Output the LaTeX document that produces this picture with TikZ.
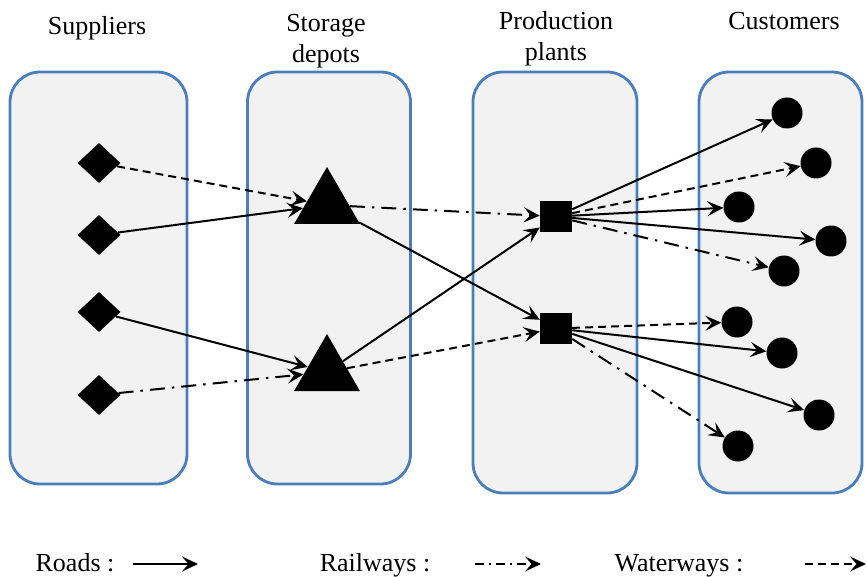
\documentclass[tikz,border=0pt]{standalone}
\usepackage{fontspec}
\setmainfont{Liberation Serif}
\usetikzlibrary{arrows.meta,shapes.geometric}

\definecolor{panelblue}{RGB}{74,126,187}
\definecolor{panelfill}{RGB}{242,242,242}

\tikzset{
  panel/.style={draw=panelblue, line width=2.8pt, fill=panelfill, rounded corners=30pt, inner sep=0pt},
  supplier/.style={diamond, fill=black, inner sep=0pt, minimum width=43pt, minimum height=40pt},
  depot/.style={regular polygon, regular polygon sides=3, fill=black, inner sep=0pt, minimum size=76pt},
  plant/.style={rectangle, fill=black, inner sep=0pt, minimum width=32pt, minimum height=31pt},
  customer/.style={circle, fill=black, inner sep=0pt, minimum size=31pt},
  title/.style={font=\fontsize{26}{31}\selectfont, align=center, inner sep=0pt},
  link/.style={line width=2pt, -{Stealth[length=16pt, width=15pt, inset=6.5pt]}},
  road/.style={link},
  rail/.style={link, dash pattern=on 15pt off 7pt on 2.5pt off 7pt},
  water/.style={link, dash pattern=on 8pt off 5pt},
  legendline/.style={line width=2.6pt},
}

\begin{document}
\begin{tikzpicture}[x=1pt, y=-1pt]
\useasboundingbox (0,0) rectangle (867,577);

% column panels
\node[panel, minimum width=177pt, minimum height=412pt] (supbox) at (98.5,278) {};
\node[panel, minimum width=163pt, minimum height=412pt] (depbox) at (329,278) {};
\node[panel, minimum width=164pt, minimum height=421pt] (plabox) at (555,282.5) {};
\node[panel, minimum width=163pt, minimum height=421pt] (cusbox) at (780.5,282.5) {};

% column titles
\node[title, anchor=base] (tsup) at (97,35) {Suppliers};
\node[title] (tdep) at (326,41) {Storage\\depots};
\node[title] (tpla) at (556,39) {Production\\plants};
\node[title, anchor=base] (tcus) at (784,30) {Customers};

% suppliers
\node[supplier] (d1) at (99,163) {};
\node[supplier] (d2) at (99,235) {};
\node[supplier] (d3) at (99,312) {};
\node[supplier] (d4) at (99,395) {};

% storage depots
\node[depot] (t1) at (327,205) {};
\node[depot] (t2) at (327,372) {};

% production plants
\node[plant] (s1) at (556,216.5) {};
\node[plant] (s2) at (556,328.5) {};

% customers
\node[customer] (c1) at (787,113) {};
\node[customer] (c2) at (816,163) {};
\node[customer] (c3) at (739,207) {};
\node[customer] (c4) at (831,241) {};
\node[customer] (c5) at (784,271) {};
\node[customer] (c6) at (737,322) {};
\node[customer] (c7) at (782,353) {};
\node[customer] (c8) at (819,415) {};
\node[customer] (c9) at (738,446) {};

% suppliers to depots
\draw[water] (d1) -- (t1);
\draw[road]  (d2) -- (t1);
\draw[road]  (d3) -- (t2);
\draw[rail]  (d4) -- (t2);

% depots to plants
\draw[rail]  (t1) -- (s1);
\draw[road]  (t1) -- (s2);
\draw[road]  (t2) -- (s1);
\draw[water] (t2) -- (s2);

% plants to customers
\draw[road]  (s1) -- (c1);
\draw[water] (s1) -- (c2);
\draw[road]  (s1) -- (c3);
\draw[road]  (s1) -- (c4);
\draw[rail]  (s1) -- (c5);
\draw[water] (s2) -- (c6);
\draw[road]  (s2) -- (c7);
\draw[road]  (s2) -- (c8);
\draw[rail]  (s2) -- (c9);

% legend
\node[title, anchor=base] (lroad) at (75,571) {Roads :};
\node[title, anchor=base] (lrail) at (375,571) {Railways :};
\node[title, anchor=base] (lwater) at (679,571) {Waterways :};
\coordinate (ra) at (133,564);
\coordinate (rb) at (198,564);
\coordinate (la) at (475,564);
\coordinate (lb) at (541,564);
\coordinate (wa) at (805,564);
\coordinate (wb) at (866,564);
\draw[road, legendline] (ra) -- (rb);
\draw[rail, legendline, dash pattern=on 9pt off 5pt on 2pt off 5pt] (la) -- (lb);
\draw[water, legendline] (wa) -- (wb);
\end{tikzpicture}
\end{document}
